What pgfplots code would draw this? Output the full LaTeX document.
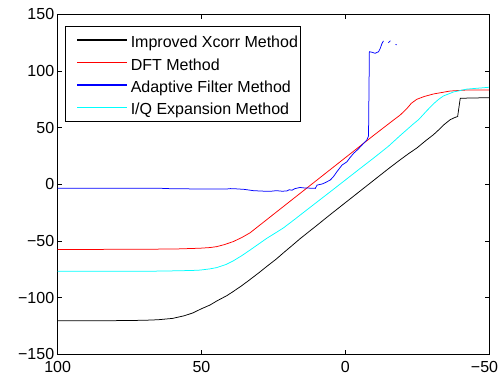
\documentclass[border=0pt]{standalone}
\usepackage{pgfplots}
\pgfplotsset{compat=1.18}
\usepackage{fontspec}
\setmainfont{Liberation Sans}

\definecolor{lineblack}{rgb}{0,0,0}
\definecolor{linered}{rgb}{1,0,0}
\definecolor{lineblue}{rgb}{0,0,1}
\definecolor{linecyan}{rgb}{0,1,1}

% Phase estimates of four methods (y) against input level (x, decreasing)
\pgfplotstableread{
x y
100 -120.3
80 -120.3
70 -120.0
65 -119.5
60 -118.3
56 -116
53 -113.5
50 -109.8
47 -106.5
44.7 -103
41 -98
38.9 -94.5
36 -89.5
33.1 -84
30 -78
27.3 -72.5
24 -66
21.5 -60.5
18 -53
15.7 -48
10 -36.5
5 -26.3
0 -16.3
-5 -6.3
-10 3.7
-15 13.7
-19.1 21.6
-22 27
-24.9 32
-28 38.5
-30.7 43.8
-32.5 48
-34.2 52.3
-36.5 57
-38 58.8
-39.1 59.8
-40 75.9
-45 76.2
-50 76.4
}\xcorr

\pgfplotstableread{
x y
100 -57.5
80 -57.4
65 -57.2
58 -57
53 -56.6
50.5 -56.4
47 -55.8
44.7 -55.0
42 -53.2
38.9 -50.5
36 -47
33.1 -42.8
30 -36.6
27.3 -31.2
20 -16.6
15.7 -8
10 3.4
5 13.4
0 23.4
-5 33.4
-10 43.4
-16.8 56.7
-19.1 61.1
-20.5 64.5
-21.5 67
-23 71.5
-24.9 75
-27.5 77.5
-30.7 79.7
-36.5 82.3
-42.3 83.2
-50 83.2
}\dft

\pgfplotstableread{
x y
100 -3.5
80 -3.5
63 -3.6
60 -4.0
45 -4.1
41 -4.1
40 -3.8
38 -4.0
35 -4.5
32 -5.6
29 -6.0
26 -6.2
24 -5.6
22 -6.1
20.3 -5.9
19.5 -4.8
18.5 -5.2
17.5 -3.8
15.7 -2.8
14 -3.3
12 -3.4
10.4 -3.6
9.8 -0.7
8 0.3
7 1.4
5.2 3.8
4.1 6.7
2.9 11.1
1.1 17
-0.6 19.9
-1.5 23
-2.9 27.3
-4.5 31
-5.8 34.6
-7.5 39
-8.1 42.6
-8.4 117
-9.3 116.5
-10.4 115.6
-11.6 117
-12.2 120
-12.8 124.4
-13.3 126.5
nan nan
-15.0 124.9
-15.7 126.7
nan nan
-17.5 123.4
-17.9 123.0
}\adaptive

\pgfplotstableread{
x y
100 -76.8
75 -76.8
65 -76.6
58 -76.3
53 -76
50.5 -75.7
47 -74.6
44.7 -73.5
41.5 -70.8
38.9 -67.5
36 -63
33.1 -58
30 -52.5
27.3 -47.7
24 -42.5
21.5 -38.5
17.4 -30.6
15.7 -27.2
10 -16
5 -6.2
0 3.7
-5 13.6
-10 23.4
-15 33.5
-19.1 43
-23.8 53.5
-25.5 57
-28.4 65
-30.7 71
-32.5 75
-34.2 78
-37.7 81.5
-42.3 84
-50 85.6
}\iqexp

\begin{document}
\begin{tikzpicture}[font=\fontsize{16}{19}\selectfont]
\path[use as bounding box] (-57.7pt,-23.7pt) rectangle (446.3pt,354.3pt);
\begin{axis}[
  scale only axis,
  width=431.3pt, height=340pt,
  x dir=reverse,
  xmin=-50, xmax=100, ymin=-150, ymax=150,
  xtick={100,50,0,-50},
  xticklabels={100,50,0,{\hspace{-9pt}−50}},
  ytick={-150,-100,-50,0,50,100,150},
  yticklabels={−150,−100,−50,0,50,100,150},
  tick align=inside,
  major tick length=4.3pt,
  every tick/.style={black, line width=0.6pt},
  axis line style={line width=0.8pt},
  tick label style={font=\fontsize{16}{19}\selectfont},
  xticklabel style={yshift=-3.5pt},
  unbounded coords=jump,
  legend cell align=left,
  % legend keys drawn as thin filled bars without outline
  legend image code/.code={%
    \path (0pt,0pt);
    \fill[#1, draw=none] (10pt,-0.8pt) rectangle (60pt,0.8pt);},
  legend style={
    at={(0.0169,0.9665)}, anchor=north west,
    draw=black, line width=0.8pt, fill=white,
    inner xsep=1pt, inner ysep=3pt,
    row sep=0pt,
    /tikz/every odd column/.style={column sep=3pt},
    nodes={inner xsep=1pt, inner ysep=0pt, text height=18.6pt, text depth=3.8pt,
           font=\fontsize{16}{19}\selectfont},
  },
]
\addlegendimage{fill=lineblack}
\addlegendentry{Improved Xcorr Method}
\addlegendimage{fill=linered}
\addlegendentry{DFT Method}
\addlegendimage{fill=lineblue}
\addlegendentry{Adaptive Filter Method}
\addlegendimage{fill=linecyan}
\addlegendentry{I/Q Expansion Method}
% curves
\addplot[draw=lineblack, line width=0.75pt, forget plot] table {\xcorr};
\addplot[draw=linered, line width=0.75pt, forget plot] table {\dft};
\addplot[draw=lineblue, line width=0.75pt, forget plot] table {\adaptive};
\addplot[draw=linecyan, line width=0.75pt, forget plot] table {\iqexp};
\end{axis}
\end{tikzpicture}
\end{document}
